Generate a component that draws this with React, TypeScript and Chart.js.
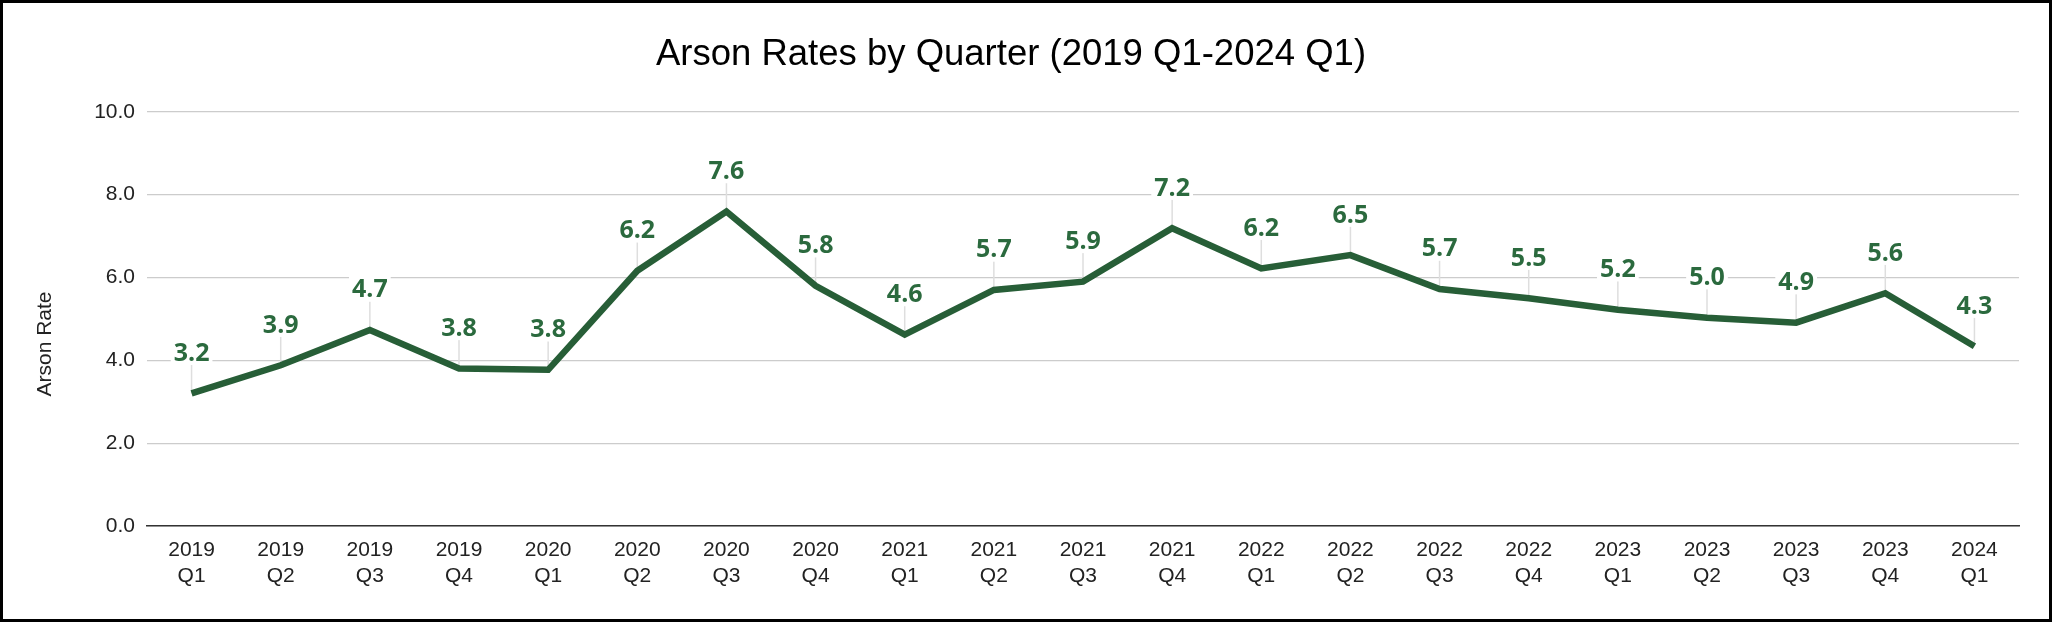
import React, { useEffect, useRef } from "react";
import { Chart, registerables } from "chart.js";

Chart.register(...registerables);

const categories: string[][] = [
  ["2019", "Q1"], ["2019", "Q2"], ["2019", "Q3"], ["2019", "Q4"],
  ["2020", "Q1"], ["2020", "Q2"], ["2020", "Q3"], ["2020", "Q4"],
  ["2021", "Q1"], ["2021", "Q2"], ["2021", "Q3"], ["2021", "Q4"],
  ["2022", "Q1"], ["2022", "Q2"], ["2022", "Q3"], ["2022", "Q4"],
  ["2023", "Q1"], ["2023", "Q2"], ["2023", "Q3"], ["2023", "Q4"],
  ["2024", "Q1"],
];

const arsonRates: number[] = [
  3.2, 3.88, 4.73, 3.8, 3.77, 6.16, 7.59, 5.8, 4.62, 5.7, 5.9, 7.19,
  6.22, 6.54, 5.72, 5.5, 5.22, 5.03, 4.91, 5.62, 4.34,
];

const yTicks: number[] = [0, 2, 4, 6, 8, 10];

const TITLE = "Arson Rates by Quarter (2019 Q1-2024 Q1)";
const Y_TITLE = "Arson Rate";

const LINE_COLOR = "#275e37";
const LABEL_COLOR = "#2b6a3e";
const AXIS_FONT = "'Liberation Sans', Arial, sans-serif";
const LABEL_FONT = "bold 25px 'Open Sans', 'Noto Sans', sans-serif";
const LABEL_OFFSET = 41.5;

const labelPlugin = {
  id: "pointLabels",
  beforeDatasetsDraw(chart: any) {
    const ctx = chart.ctx;
    const meta = chart.getDatasetMeta(0);
    ctx.save();
    ctx.strokeStyle = "#dedede";
    ctx.lineWidth = 1.5;
    meta.data.forEach((pt: any) => {
      const cy = pt.y - LABEL_OFFSET;
      ctx.beginPath();
      ctx.moveTo(pt.x, cy + 13);
      ctx.lineTo(pt.x, pt.y);
      ctx.stroke();
    });
    ctx.restore();
  },
  afterDatasetsDraw(chart: any) {
    const ctx = chart.ctx;
    const meta = chart.getDatasetMeta(0);
    const data = chart.data.datasets[0].data as number[];
    ctx.save();
    ctx.font = LABEL_FONT;
    ctx.textAlign = "center";
    ctx.textBaseline = "alphabetic";
    meta.data.forEach((pt: any, i: number) => {
      const text = data[i].toFixed(1);
      const w = ctx.measureText(text).width;
      const cy = pt.y - LABEL_OFFSET;
      ctx.fillStyle = "#ffffff";
      ctx.fillRect(pt.x - w / 2 - 3, cy - 13, w + 6, 26);
      ctx.fillStyle = LABEL_COLOR;
      ctx.fillText(text, pt.x, cy + 8.9);
    });
    ctx.restore();
  },
  afterDraw(chart: any) {
    const ctx = chart.ctx;
    ctx.save();
    ctx.translate(42.5, 341);
    ctx.rotate(-Math.PI / 2);
    ctx.font = `21px ${AXIS_FONT}`;
    ctx.fillStyle = "#222222";
    ctx.textAlign = "center";
    ctx.textBaseline = "middle";
    ctx.fillText(Y_TITLE, 0, 0);
    ctx.restore();
  },
};

export default function App() {
  const canvasRef = useRef<HTMLCanvasElement | null>(null);

  useEffect(() => {
    if (!canvasRef.current) return;
    const chart = new Chart(canvasRef.current, {
      type: "line",
      data: {
        labels: categories,
        datasets: [
          {
            data: arsonRates,
            borderColor: LINE_COLOR,
            backgroundColor: LINE_COLOR,
            borderWidth: 6.5,
            pointRadius: 0,
            pointHoverRadius: 0,
            tension: 0,
            borderJoinStyle: "miter",
            borderCapStyle: "butt",
          },
        ],
      },
      options: {
        responsive: false,
        animation: false,
        devicePixelRatio: 1,
        layout: { padding: { left: 0, right: 30, top: 0, bottom: 0 } },
        plugins: {
          legend: { display: false },
          tooltip: { enabled: false },
          title: {
            display: true,
            text: TITLE,
            color: "#000000",
            font: { family: AXIS_FONT, size: 36.5, weight: "normal", lineHeight: 1.2 },
            padding: { top: 30, bottom: 35 },
          },
        },
        scales: {
          x: {
            offset: true,
            grid: { display: false, drawTicks: false },
            border: { display: true, color: "#333333", width: 1.5 },
            ticks: {
              color: "#222222",
              padding: 12,
              maxRotation: 0,
              autoSkip: false,
              font: { family: AXIS_FONT, size: 21, lineHeight: 1.2 },
            },
            afterFit(scale: any) {
              scale.height = 93;
            },
          },
          y: {
            min: 0,
            max: 10,
            afterBuildTicks(scale: any) {
              scale.ticks = yTicks.map((v) => ({ value: v }));
            },
            grid: { color: "#cccccc", lineWidth: 1.2, drawTicks: false },
            border: { display: false },
            ticks: {
              color: "#222222",
              padding: 12,
              font: { family: AXIS_FONT, size: 21 },
              callback: (v: any) => Number(v).toFixed(1),
            },
            title: { display: false },
            afterFit(scale: any) {
              scale.width = 144;
            },
          },
        },
      },
      plugins: [labelPlugin],
    } as any);
    return () => chart.destroy();
  }, []);

  return (
    <div
      style={{
        position: "fixed",
        left: 0,
        top: 0,
        width: 2052,
        height: 622,
        boxSizing: "border-box",
        border: "3px solid #000000",
        background: "#ffffff",
      }}
    >
      <canvas
        ref={canvasRef}
        width={2046}
        height={616}
        style={{ display: "block", width: 2046, height: 616 }}
      />
    </div>
  );
}
